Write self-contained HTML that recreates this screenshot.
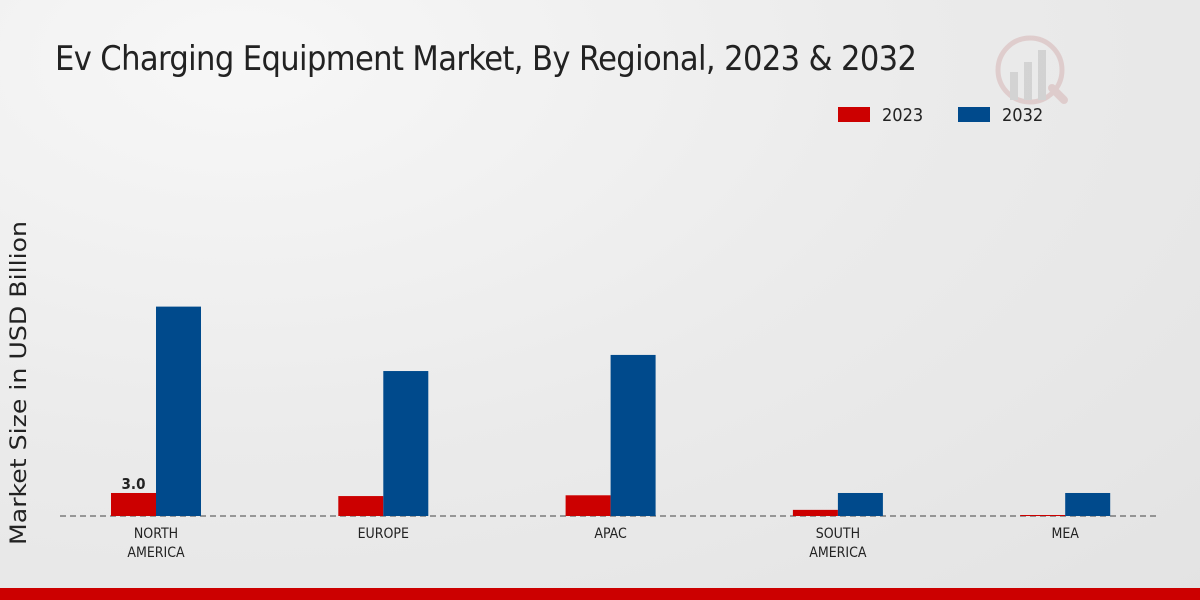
<!DOCTYPE html>
<html><head><meta charset="utf-8"><style>
body{margin:0;width:1200px;height:600px;overflow:hidden;font-family:"DejaVu Sans Condensed","Liberation Sans",sans-serif;}
#bg{position:absolute;left:0;top:0;width:1200px;height:600px;background:radial-gradient(ellipse at 20% 10%,#f7f7f7 0%,#ebebeb 50%,#e3e3e3 100%);}
</style></head><body>
<div id="bg"></div>
<svg id="c" width="1200" height="600" style="position:absolute;left:0;top:0">
<text x="55" y="70" font-size="34" fill="#222" font-family="DejaVu Sans Condensed, Liberation Sans Narrow, sans-serif" textLength="862">Ev Charging Equipment Market, By Regional, 2023 &amp; 2032</text>
<g opacity="0.35">
<circle cx="1030" cy="70" r="32" fill="none" stroke="#c99" stroke-width="5"/>
<rect x="1010" y="72" width="8" height="28" fill="#aaa"/><rect x="1024" y="62" width="8" height="38" fill="#aaa"/><rect x="1038" y="50" width="8" height="50" fill="#aaa"/>
<line x1="1052" y1="88" x2="1064" y2="100" stroke="#c99" stroke-width="8" stroke-linecap="round"/>
</g>
<g>
<rect x="838" y="107" width="32" height="15" fill="#cc0000"/>
<text x="882" y="121" font-size="18" fill="#222">2023</text>
<rect x="958" y="107" width="32" height="15" fill="#004a8c"/>
<text x="1002" y="121" font-size="18" fill="#222">2032</text>
</g>
<text transform="translate(26,383) rotate(-90)" text-anchor="middle" font-size="22" fill="#222" font-family="DejaVu Sans, sans-serif" textLength="324" lengthAdjust="spacingAndGlyphs">Market Size in USD Billion</text>
<line x1="60" y1="516" x2="1160" y2="516" stroke="#444" stroke-dasharray="6,4"/>
<g id="bars"></g>
<rect x="0" y="588" width="1200" height="12" fill="#cc0000"/>
</svg>
<script>
const categories=[["NORTH","AMERICA"],["EUROPE"],["APAC"],["SOUTH","AMERICA"],["MEA"]];
const values2023=[3.0,2.6,2.7,0.8,0.13];
const values2032=[27.3,18.9,21.0,3.0,3.0];
const labels2023=["3.0",null,null,null,null];
const ns="http://www.w3.org/2000/svg";
const g=document.getElementById('bars');
const y0=516,pxPer=7.67,x0=156,step=227.3,bw=45;
function yS(v){return y0-v*pxPer;}
function xC(i){return x0+i*step;}
function mk(t,a){const e=document.createElementNS(ns,t);for(const k in a)e.setAttribute(k,a[k]);g.appendChild(e);return e;}
categories.forEach((cat,i)=>{
  const cx=xC(i);
  const r=mk('rect',{x:cx-bw,y:yS(values2023[i]),width:bw,height:y0-yS(values2023[i]),fill:'#cc0000'});
  
  
  const b=mk('rect',{x:cx,y:yS(values2032[i]),width:bw,height:y0-yS(values2032[i]),fill:'#004a8c'});
  
  
  if(labels2023[i]){
    const t=mk('text',{x:cx-bw/2,y:yS(values2023[i])-4,'text-anchor':'middle','font-size':15,'font-weight':'bold',fill:'#222'});
    t.textContent=labels2023[i];
    
    
  }
  cat.forEach((line,j)=>{
    const t=mk('text',{x:cx,y:538+j*19,'text-anchor':'middle','font-size':14,fill:'#222'});
    t.textContent=line;
    
    
  });
});
</script>
</body></html>
